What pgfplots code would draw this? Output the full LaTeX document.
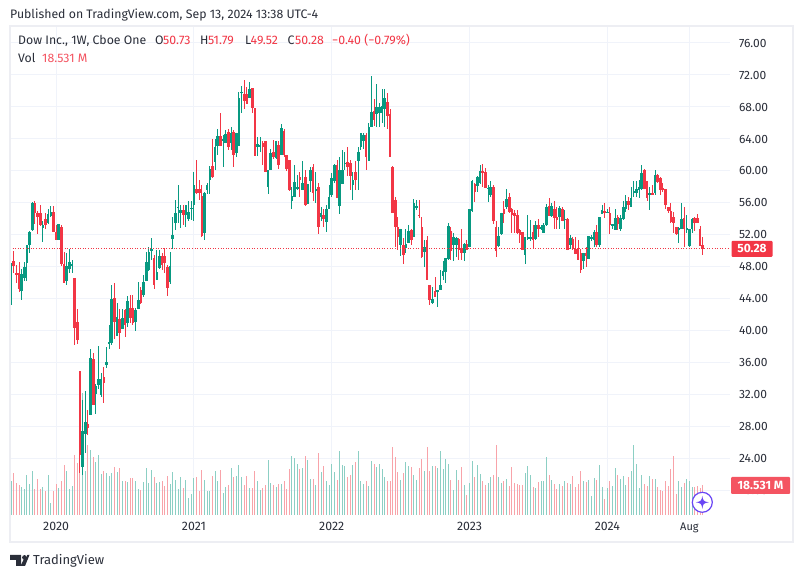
\documentclass[border=0pt]{standalone}
\usepackage{fontspec}
\setmainfont{Fira Sans}
\usepackage{pgfplots}
\usepackage{pgfplotstable}
\pgfplotsset{compat=1.18}

\definecolor{up}{HTML}{089981}
\definecolor{down}{HTML}{F23645}
\definecolor{upvol}{HTML}{8CCFC4}
\definecolor{downvol}{HTML}{F8A3A9}
\definecolor{gridc}{HTML}{F0F3FA}
\definecolor{framec}{HTML}{EDEEF3}
\definecolor{txt}{HTML}{2A2E39}
\definecolor{star}{HTML}{6A46F5}

% weekly bars: index, open, high, low, close, volume (M)
\pgfplotstableread{
i o h l c v
0 43.5 48.5 43.3 48.25 21.0
1 48.75 50 47.2 48.1 26.0
2 47.3 48.25 46 47 19.8
3 47.2 48.6 44.9 45.25 18.5
4 45 47.75 43.9 47.1 17.3
5 46.6 48.6 46.25 48 16.1
6 48.5 50.75 46.2 50.75 24.7
7 50.7 52.5 49.8 52.4 19.2
8 52.6 56.1 52.5 56.05 27.2
9 56 56.3 53.4 54.8 16.1
10 54.8 55 52.1 54.2 22.2
11 54.8 55.75 53.1 53.3 16.1
12 52.85 53.8 51.1 53.25 17.3
13 54 54.8 52.75 53.25 14.8
14 53.5 55.25 53.4 54.6 24.7
15 54.4 55.6 54.3 54.85 7.4
16 54.85 55.6 52.4 52.4 14.8
17 52.4 53.25 51.4 51.4 19.2
18 51.4 53.4 51.4 53.4 16.7
19 53 53.25 48.1 48.4 21.0
20 48.4 49.9 46.05 46.05 30.9
21 46.25 49.7 45.75 48.1 27.2
22 47.7 50.3 47.2 48.6 16.1
23 48.2 48.9 47.2 48.3 17.9
24 46.6 46.6 38.2 40.4 37.1
25 41.1 42.7 38.4 38.9 32.1
26 35 35 22.2 24.5 45
27 23.05 31.4 22 27.5 75.4
28 27.1 32.5 24.7 28.6 27
29 28.4 30.1 27 27.9 43.3
30 29.5 37.75 29.5 36.6 40.2
31 36.5 37.25 30.75 30.75 35.8
32 32.1 33.4 29.6 33.1 32.8
33 33.25 38.1 32.8 34 37.1
34 32 34.7 31.8 34 25.3
35 34.25 35.5 31 33.5 27.2
36 35.75 38 35.4 36.1 26.0
37 38.45 40.75 37.75 38.6 24.1
38 38.5 45.75 38.25 44 26.0
39 44.1 46 39 41.1 29.7
40 39.4 43.5 39.4 41.75 26.6
41 41.5 42.8 37.75 39.8 29.0
42 40.25 42.8 40.25 41.6 21.0
43 42.6 42.8 39.25 40.75 21.0
44 41 44.4 40.5 43.75 20.4
45 42.9 44.5 41 41.6 22.9
46 42.9 44.5 40.75 41 22.9
47 41.1 42.9 40 42.6 21.0
48 42.75 46.1 42.75 43.9 16.1
49 45.1 45.5 43.4 43.5 15.5
50 44.5 47 44.25 46.1 20.4
51 46.25 49.9 46.25 48.6 29.0
52 47.6 50.5 47.5 49.9 19.8
53 50 51.6 48.9 50.3 27.8
54 49.1 49.5 45.2 45.7 23.5
55 46.4 50.1 46.4 47.4 19.8
56 47.9 50.1 47.8 49.4 20.4
57 49.4 49.8 47.6 48.3 21.0
58 49.4 50.4 47.2 48.5 17.9
59 48 48.3 44.4 45.4 24.1
60 46.1 49.9 45.9 48.1 19.2
61 51.5 54.25 50.3 52 26.6
62 53.5 56.4 52.6 54.7 21.6
63 55.4 58.25 53.5 55.5 16.1
64 54.7 55.75 52.9 55.1 23.5
65 55.1 55.75 53.3 54.5 16.7
66 54.5 55.75 53 55.75 21.6
67 54 56.2 53.8 54.9 10.5
68 55.3 56.2 53.9 55.4 13.0
69 55.75 59.9 53.8 58.25 22.9
70 57.7 61.4 57.1 57.3 23.5
71 57.7 58.9 56.4 57.3 14.8
72 56.9 58.25 51.8 51.9 27.8
73 52.3 57.4 51.4 57.2 21.6
74 57.6 58.5 57.1 58.25 14.8
75 58.9 60.6 57.1 60.3 14.8
76 60.6 64 59.2 59.3 24.1
77 61.1 64 60.1 63 27.2
78 63.1 65.2 62 64.4 21.0
79 64.4 67.2 63.1 63.1 27.8
80 63.8 64.5 60.5 64 13.6
81 63.5 65.1 63.5 64.6 17.3
82 64.9 65.3 62.6 63 18.5
83 63.5 65.5 62.6 64.7 29.0
84 64.9 65.1 60.5 62 23.5
85 62.2 64.8 61.8 64.8 24.1
86 63.1 69.9 63.1 69.1 30.9
87 69.8 70.6 67.3 69.9 23.5
88 69.6 71.4 67.7 68.7 18.5
89 69.6 70.5 68.4 68.4 24.1
90 69.1 71.1 69.1 70.3 16.7
91 70.4 70.4 67.2 67.9 16.7
92 67.9 67.9 61.9 61.9 27.2
93 63 64.3 61.9 63.4 21.0
94 63 64.3 62.4 63.2 15.5
95 63.5 63.8 60.7 63 16.7
96 63.7 63.8 59.9 59.9 18.5
97 58 60.1 57.1 60.1 34.0
98 60.1 62.8 60.1 62.2 19.5
99 62.4 63.9 61.5 61.7 18.5
100 61.6 63.8 61.5 63.8 17.0
101 63.2 63.7 60.2 60.7 19.2
102 62 65.9 62 65.4 19.2
103 65 65.3 61.7 62 20.8
104 62 62 60 60.3 16.1
105 61.4 61.4 57.5 57.6 28.4
106 56.2 58 55.2 56.9 36.5
107 56.7 60.75 56.7 58.6 35.2
108 57.7 59.5 57.6 58 31.5
109 59.3 59.9 56.8 58.9 28.4
110 57.6 61.2 57.6 58.5 29.0
111 59.3 60.1 55.7 55.8 36.5
112 55.9 58.4 55.9 58.4 34.0
113 58.8 60.5 57.4 60.1 22.2
114 60.5 60.9 56.2 57.3 22.2
115 57.6 59.9 56 57.7 18.5
116 58 58.5 52.1 53 38.3
117 54.3 55.5 53.7 54.7 26.6
118 54.5 55.3 53 54 30.3
119 53.6 55.75 52.4 55.3 21.0
120 55.2 58.25 55.2 56.8 18.5
121 57 59.7 56.8 59.1 31.5
122 58.8 60.9 58.5 60.8 26.6
123 60.7 61.4 56.6 56.6 21.6
124 55.6 61.7 54.6 60.1 39.6
125 58.4 62.6 58.4 60.1 30.9
126 60.9 62.4 60.1 61 30.3
127 61.1 63 59.4 60.5 23.5
128 61 61.4 57.6 59.4 24.7
129 58.3 59.9 56.4 58.9 30.9
130 59.9 61.2 57.6 58.9 32.8
131 61.3 63 57.6 62.4 39.6
132 63 64.7 62.6 64.7 21.0
133 63.8 64.8 62.8 64.5 19.2
134 64.5 64.7 60.1 61.7 21.0
135 61.3 66 61.3 65.5 17.9
136 65.5 71.9 65.5 67.4 33.4
137 67.5 69 65.6 66.4 31.5
138 67.1 70.9 65.5 68 29.7
139 67.2 68.5 65.5 68 31.5
140 67.2 70.3 66 68.1 28.4
141 67.7 70.3 65.5 69.1 23.5
142 68.6 69.8 65.3 66.9 21.0
143 67.1 67.8 61.8 61.8 21.0
144 60.5 60.6 54.8 54.8 42.0
145 56.4 56.8 50.5 53 35.8
146 53 54.3 50.1 51.7 26.6
147 50.8 52.8 49.4 52.8 21.6
148 50.7 51.6 48.4 49.5 26.0
149 50.4 52.8 49.7 50.9 32.8
150 51 53.2 51 52.5 30.3
151 52.6 52.8 50.7 51.4 29.7
152 51.8 56.5 51.8 56 24.7
153 55.4 56.4 55.1 55.6 21.6
154 54.5 56.4 54.1 54.4 29.0
155 53 54.3 49.1 49.3 34.6
156 49.9 51.4 48 50.5 27.2
157 51.4 51.9 46.4 46.4 42.0
158 45.7 45.7 43.2 43.9 27.2
159 43.5 45.5 43.4 44 30.3
160 45 46.8 44.3 44.3 30.3
161 44.9 45.1 43 45.1 29.0
162 45.1 47.6 45.1 45.7 39.6
163 46.9 48.7 46.4 47.5 28.4
164 47.4 49.1 46 49.1 34.6
165 49 53.5 48.9 53.1 31.5
166 52.5 53 48.9 50 21.6
167 50.7 52.2 48.7 51.7 15.5
168 50.7 51.8 49.3 51.6 27.8
169 51.5 51.6 48.9 50.1 21.6
170 50.4 52.8 48.9 49.8 29.7
171 49.8 51 48.8 50.9 18.5
172 50.9 51.4 50.1 50.1 12.4
173 50.5 55.2 50.5 55.2 19.8
174 55 58.9 54.9 58.7 33.4
175 58.4 58.5 56.1 57.4 23.5
176 58.1 59.4 57.4 59.3 30.9
177 58.5 60.8 58.4 60 25.3
178 60 60.9 58 59.8 21.0
179 59.9 60.4 57.9 57.9 18.5
180 57.8 58.3 56.1 57.9 19.8
181 57 58.7 56.8 58 23.5
182 58 58.3 53.4 53.8 24.7
183 53 53.7 49.3 50 43.3
184 50.6 53 50.5 51.9 23.5
185 52.1 54.8 52 54.8 19.8
186 55.2 56.2 53.5 54.6 21.0
187 55.5 57.7 55.2 56.5 22.2
188 56.7 57.2 54.7 54.9 17.9
189 55.3 55.4 52.3 54.5 29.7
190 54.8 55.1 52.2 54.4 19.8
191 54.5 55.1 52.1 52.2 19.2
192 52.6 52.8 51 52 18.5
193 52.4 52.4 50.1 50.1 18.5
194 49.5 51.7 48.4 51.7 26.0
195 51.5 54.5 51.4 51.7 30.3
196 51.5 53.9 51.2 51.7 24.7
197 52.4 53.3 50.3 51.4 17.3
198 51.5 53.7 51.4 53.2 16.7
199 53.3 54 51.7 52.8 20.4
200 52.7 53.3 52.6 53 21.0
201 52.3 53.5 52.2 53.3 21.0
202 53.2 55.9 53.1 55.5 35.8
203 55.6 56.6 54.4 54.4 24.7
204 54.4 56 54.2 55.6 21.6
205 55.3 56.2 52.8 54.1 19.2
206 54.3 55.5 52.8 53.9 16.1
207 54.2 55.6 52.8 55.4 19.2
208 55.3 55.5 53.7 53.7 17.9
209 53.9 55.1 52.8 54 21.0
210 54 54.1 50.1 50.1 19.8
211 50.7 52 50.2 51.6 19.2
212 51.5 51.8 50.1 50.3 24.1
213 50.3 51.8 49.6 49.6 17.3
214 50.3 51.4 48.9 48.9 19.2
215 49.7 50.2 47.3 47.6 27.2
216 48.7 49.7 47.8 49.7 21.0
217 49.7 50.5 48 49.4 20.4
218 49 51.9 49 51.9 21.6
219 51.5 52 51.3 51.7 11.7
220 51.4 52.6 50.5 52.4 22.9
221 52.4 53.2 50.5 50.8 21.6
222 50.8 54.3 50.5 54.2 30.9
223 54.6 55.8 54.6 55.1 17.3
224 55 56 54.1 54.8 9.9
225 54.8 55.3 54.8 54.9 16.7
226 54.8 55.5 52.1 53.3 21.0
227 53.2 53.4 52.7 53.3 17.9
228 52.6 55.3 52.6 54.1 29.0
229 54.3 54.5 52.6 53.4 24.7
230 52.8 54.5 52.5 54.1 22.2
231 54 56.2 53.9 55.5 24.1
232 55.2 57 54.9 56.2 18.5
233 56.2 56.7 55.1 55.8 23.5
234 55.5 58 55.5 56.6 27.2
235 57.2 58.75 56.8 57.5 43.3
236 57.3 58.7 56.8 57.8 31.5
237 57.6 58.9 56.6 58 16.7
238 57.7 60.75 57.6 59.8 24.7
239 60.1 60.2 57.7 57.7 19.2
240 58.7 58.7 56.2 56.6 17.9
241 57 58 55.1 57.2 24.1
242 57.3 58.2 57 57 22.2
243 57.2 60.1 57 59.5 22.2
244 59.5 59.6 58.5 58.6 17.3
245 59.1 59.3 57 57.6 15.5
246 57.9 58.5 57.4 57.6 14.8
247 57.7 57.8 55.2 55.8 21.0
248 55.5 55.5 54.7 55 17.9
249 55 56 53.5 53.6 28.4
250 54.3 54.9 52.2 53.5 36.5
251 53 53 52 52.1 13.0
252 52.7 53 51 52.9 21.0
253 52.8 56 52.8 54 17.3
254 54.1 55.5 50.5 52.8 20.0
255 52.7 54.5 52.2 52.8 22.2
256 50.6 52.8 50.5 52.7 21.0
257 52.7 54.1 52.2 54 17.3
258 54.1 54.3 52.5 53.5 17.3
259 54.1 54.6 53.5 53.5 17.9
260 52.7 53.1 50.6 50.6 16.5
261 50.73 51.79 49.52 50.28 18.531
}\bars

\pgfplotsset{
  panel/.style={
    scale only axis, width=720pt, height=488pt,
    at={(10pt,63pt)}, anchor=south west,
    xmin=-0.4, xmax=271.3,
  },
  priceaxis/.style={panel, ymin=17, ymax=78},
  wick/.style={draw=none, mark=none, forget plot,
    error bars/.cd, y dir=both, y explicit, error mark=none,
    error bar style={solid, line width=1pt, draw=#1}},
  body/.style={draw=none, mark=none, forget plot,
    error bars/.cd, y dir=both, y explicit, error mark=none,
    error bar style={solid, line width=2.6pt, draw=#1}},
}

\begin{document}
\begin{tikzpicture}[x=1pt,y=1pt]
\useasboundingbox (0,0) rectangle (804,578);
\fill[white] (0,0) rectangle (804,578);

% grid and price/time scales
\begin{axis}[priceaxis,
    axis line style={draw=none},
    tick style={draw=none},
    grid=major,
    grid style={gridc, line width=1pt},
    ytick={20,24,...,76},
    yticklabel pos=right,
    y tick label style={/pgf/number format/fixed,
      /pgf/number format/fixed zerofill,
      /pgf/number format/precision=2,
      /pgf/number format/assume math mode=true,
      font=\fontsize{12}{13}\selectfont, color=txt, xshift=5.5pt},
    xtick={17,69,121,173,225,256},
    xticklabels={2020,2021,2022,2023,2024,{\fontsize{11}{12}\selectfont Aug}},
    x tick label style={font=\fontsize{12.3}{13}\selectfont, color=txt, yshift=-4pt},
  ]
\end{axis}

% volume
\begin{axis}[panel, hide axis, ymin=0, ymax=301.6]
\addplot[ycomb, mark=none, upvol, line width=1pt, forget plot]
  table[x=i, y expr={\thisrow{c}<\thisrow{o} ? nan : \thisrow{v}}] {\bars};
\addplot[ycomb, mark=none, downvol, line width=1pt, forget plot]
  table[x=i, y expr={\thisrow{c}<\thisrow{o} ? \thisrow{v} : nan}] {\bars};
\end{axis}

% candles, last price line and tags
\begin{axis}[priceaxis, hide axis, clip=false]
\addplot[wick=up] table[x=i, y expr={\thisrow{c}<\thisrow{o} ? nan : \thisrow{c}},
    y error plus expr=\thisrow{h}-\thisrow{c}, y error minus expr=\thisrow{c}-\thisrow{l}] {\bars};
\addplot[wick=down] table[x=i, y expr={\thisrow{c}<\thisrow{o} ? \thisrow{c} : nan},
    y error plus expr=\thisrow{h}-\thisrow{c}, y error minus expr=\thisrow{c}-\thisrow{l}] {\bars};
\addplot[body=up] table[x=i, y expr={\thisrow{c}<\thisrow{o} ? nan : (\thisrow{c}+\thisrow{o})/2},
    y error expr={max(abs(\thisrow{c}-\thisrow{o})/2,0.07)}] {\bars};
\addplot[body=down] table[x=i, y expr={\thisrow{c}<\thisrow{o} ? (\thisrow{c}+\thisrow{o})/2 : nan},
    y error expr={max(abs(\thisrow{c}-\thisrow{o})/2,0.07)}] {\bars};
\addplot[down, line width=1pt, dash pattern=on 1pt off 1.6pt, mark=none, forget plot]
  coordinates {(-0.4,50.28) (271.3,50.28)};
\end{axis}

% frame
\draw[framec, line width=2pt] (10,35.5) rectangle (793,552);

% tags on the price scale
\node[fill=down, rounded corners=1pt, text=white, font=\fontsize{12}{13}\selectfont\bfseries,
  minimum width=41pt, minimum height=16pt, inner sep=0pt] at (752,329.2) {50.28};
\node[fill=down!85!white, rounded corners=1pt, text=white, font=\fontsize{12}{13}\selectfont\bfseries,
  minimum width=59pt, minimum height=17pt, inner sep=0pt] at (760.5,92.5) {18.531 M};

% header
\node[anchor=base west, inner sep=0pt, text=txt, font=\fontsize{12.3}{13}\selectfont] at (10,559) {Published on TradingView.com, Sep 13, 2024 13:38 UTC-4};
\begin{scope}[every node/.style={anchor=base west, inner sep=0pt, font=\fontsize{12.3}{13}\selectfont}]
\node[text=txt] at (18,533) {Dow Inc., 1W, Cboe One};
\node[text=txt] at (155,533) {O}; \node[text=down] at (163,533) {50.73};
\node[text=txt] at (200,533) {H}; \node[text=down] at (208,533) {51.79};
\node[text=txt] at (245,533) {L}; \node[text=down] at (250.5,533) {49.52};
\node[text=txt] at (287.5,533) {C}; \node[text=down] at (295,533) {50.28};
\node[text=down] at (332,533) {−0.40 (−0.79\%)};
\node[text=txt] at (18,515) {Vol}; \node[text=down!85!white] at (42,515) {18.531 M};
\end{scope}

% footer logo and name
\fill[txt] (10,23) -- (21,23) -- (21,12) -- (16,12) -- (16,18) -- (10,18) -- cycle;
\fill[txt] (24.5,20.5) circle (2.4);
\fill[txt] (20.5,12) -- (25,12) -- (29.5,23) -- (27.3,23) -- (26,19) -- (24,19) -- cycle;
\node[anchor=base west, inner sep=0pt, text=txt, font=\fontsize{13}{14}\selectfont] at (33,13) {TradingView};

% assistant badge
\draw[star, line width=1.2pt, fill=white] (702.3,75.7) circle (10);
\fill[star] (702.3,82.2) .. controls (703,77.5) and (703.5,76.4) .. (708.8,75.7)
  .. controls (703.5,75) and (703,73.9) .. (702.3,69.2)
  .. controls (701.6,73.9) and (701.1,75) .. (695.8,75.7)
  .. controls (701.1,76.4) and (701.6,77.5) .. (702.3,82.2) -- cycle;
\end{tikzpicture}
\end{document}
